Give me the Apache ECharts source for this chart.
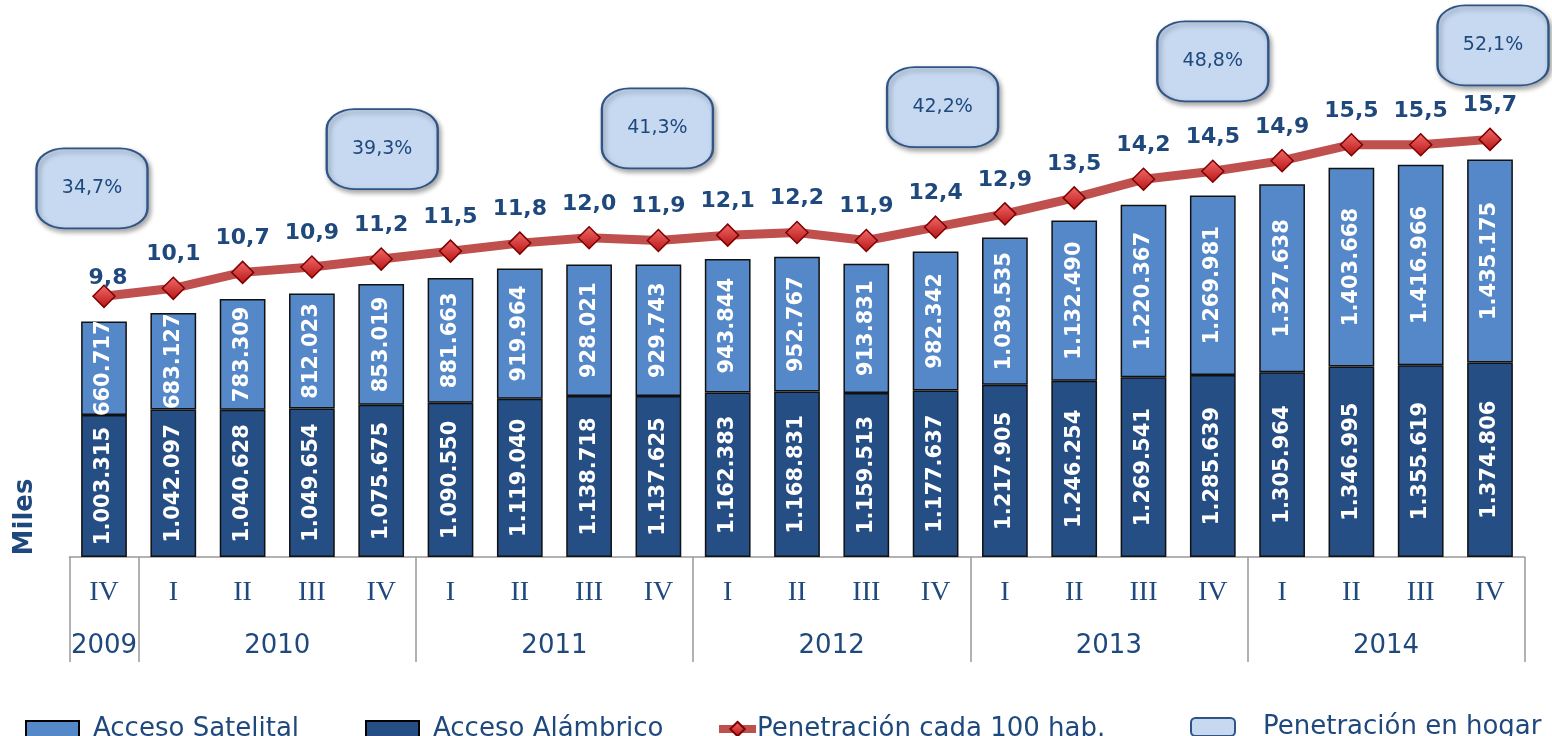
<!DOCTYPE html>
<html>
<head>
<meta charset="utf-8">
<script src="https://cdn.jsdelivr.net/npm/echarts@6/dist/echarts.min.js"></script>
<style>
  html, body { margin: 0; padding: 0; background: #fff; }
  #chart { width: 1552px; height: 736px; }
</style>
</head>
<body>
<div id="chart"></div>
<script>
// datos por trimestre (IV 2009 .. IV 2014)
var quarters = ['IV', 'I', 'II', 'III', 'IV', 'I', 'II', 'III', 'IV', 'I', 'II', 'III', 'IV',
    'I', 'II', 'III', 'IV', 'I', 'II', 'III', 'IV']
var years = ['2009', '2010', '2011', '2012', '2013', '2014']
var quartersPerYear = [1, 4, 4, 4, 4, 4]

var alambrico = [1003315, 1042097, 1040628, 1049654, 1075675, 1090550, 1119040, 1138718, 1137625,
    1162383, 1168831, 1159513, 1177637, 1217905, 1246254, 1269541, 1285639, 1305964, 1346995,
    1355619, 1374806]
var satelital = [660717, 683127, 783309, 812023, 853019, 881663, 919964, 928021, 929743,
    943844, 952767, 913831, 982342, 1039535, 1132490, 1220367, 1269981, 1327638, 1403668,
    1416966, 1435175]
var penetracion = [9.8, 10.1, 10.7, 10.9, 11.2, 11.5, 11.8, 12.0, 11.9, 12.1, 12.2, 11.9, 12.4,
    12.9, 13.5, 14.2, 14.5, 14.9, 15.5, 15.5, 15.7]

// penetracion en hogar (solo algunos trimestres)
var hogarIndex = [0, 4, 8, 12, 16, 20]
var hogar = [34.7, 39.3, 41.3, 42.2, 48.8, 52.1]

var azul = '#1F497D'

function miles(n) {
    return String(n).replace(/\B(?=(\d{3})+(?!\d))/g, '.')
}
function coma(v) {
    return v.toFixed(1).replace('.', ',')
}

// eje de años: medio trimestre por paso, etiquetas al centro de cada año
var yearAxisData = []
var yearTicks = {}
var yearLabels = {}
var pos = 0
yearTicks[0] = true
for (var y = 0; y < years.length; y++) {
    yearLabels[pos + quartersPerYear[y]] = years[y]
    pos += quartersPerYear[y] * 2
    yearTicks[pos] = true
}
for (var h = 0; h <= pos; h++) {
    yearAxisData.push(yearLabels[h] || '')
}

// desplazamiento de los recuadros respecto a la linea
var boxOffset = [[-12, -108], [1, -110], [-1, -112], [7, -120], [0, -110], [3, -94]]
var hogarData = hogarIndex.map(function (idx, i) {
    return {
        value: [idx, penetracion[idx], hogar[i]],
        symbolOffset: boxOffset[i]
    }
})

var lineData = penetracion.map(function (v, i) {
    if (i === 0) {
        return { value: v, label: { offset: [4, 16] } }
    }
    return v
})

var legendText = { color: azul, fontSize: 26 }

var chart = echarts.init(document.getElementById('chart'))
chart.setOption({
    animation: false,
    textStyle: { fontFamily: 'DejaVu Sans' },
    grid: {
        left: 69.35,
        right: 27.35,
        top: 25,
        bottom: 179
    },
    legend: [
        {
            data: [{ name: 'Acceso Satelital', icon: 'rect' }],
            left: 25,
            top: 716,
            padding: 0,
            itemWidth: 53,
            itemHeight: 16,
            itemStyle: { borderColor: '#000', borderWidth: 2 },
            textStyle: Object.assign({ padding: [0, 0, 0, 9] }, legendText)
        },
        {
            data: [{ name: 'Acceso Alámbrico', icon: 'rect' }],
            left: 365,
            top: 716,
            padding: 0,
            itemWidth: 53,
            itemHeight: 16,
            itemStyle: { borderColor: '#000', borderWidth: 2 },
            textStyle: Object.assign({ padding: [0, 0, 0, 9] }, legendText)
        },
        {
            data: ['Penetración cada 100 hab.'],
            left: 715,
            top: 716,
            padding: 0,
            itemWidth: 37,
            itemHeight: 18,
            lineStyle: { color: '#C0504D', width: 8 },
            textStyle: Object.assign({ padding: [0, 0, 0, -4] }, legendText)
        },
        {
            data: ['Penetración en hogar'],
            left: 1190,
            top: 714,
            padding: 0,
            itemWidth: 44,
            itemHeight: 18,
            itemStyle: { opacity: 1 },
            textStyle: Object.assign({ padding: [0, 0, 0, 23] }, legendText)
        }
    ],
    xAxis: [
        {
            type: 'category',
            data: quarters,
            position: 'bottom',
            axisLine: { lineStyle: { color: '#999', width: 1.5 } },
            axisTick: { show: false },
            axisLabel: {
                color: azul,
                fontFamily: 'Liberation Serif',
                fontSize: 28,
                margin: 22
            }
        },
        {
            type: 'category',
            data: yearAxisData,
            position: 'bottom',
            boundaryGap: false,
            axisLine: { show: false },
            axisTick: {
                show: true,
                length: 105,
                interval: function (idx) { return !!yearTicks[idx] },
                lineStyle: { color: '#999', width: 1.5 }
            },
            axisLabel: {
                color: azul,
                fontSize: 26,
                margin: 76,
                interval: function (idx) { return !!yearLabels[idx] }
            }
        }
    ],
    yAxis: [
        { type: 'value', min: 0, max: 3760000, show: false },
        { type: 'value', min: 0, max: 20, show: false }
    ],
    graphic: [
        {
            type: 'text',
            x: 25,
            y: 517,
            rotation: Math.PI / 2,
            style: {
                text: 'Miles',
                fill: azul,
                font: 'bold 26px "DejaVu Sans"',
                align: 'center',
                verticalAlign: 'middle'
            }
        }
    ],
    series: [
        {
            name: 'Acceso Alámbrico',
            type: 'bar',
            stack: 'total',
            barWidth: '66%',
            data: alambrico,
            itemStyle: { color: '#254E85', borderColor: '#111', borderWidth: 1.5 },
            label: {
                show: true,
                position: 'inside',
                rotate: 90,
                color: '#fff',
                fontWeight: 'bold',
                fontSize: 21,
                formatter: function (p) { return miles(p.value) }
            }
        },
        {
            name: 'Acceso Satelital',
            type: 'bar',
            stack: 'total',
            barWidth: '66%',
            data: satelital,
            itemStyle: { color: '#5588C8', borderColor: '#111', borderWidth: 1.5 },
            label: {
                show: true,
                position: 'inside',
                rotate: 90,
                color: '#fff',
                fontWeight: 'bold',
                fontSize: 21,
                formatter: function (p) { return miles(p.value) }
            }
        },
        {
            name: 'Penetración cada 100 hab.',
            type: 'line',
            yAxisIndex: 1,
            data: lineData,
            symbol: 'diamond',
            symbolSize: 22,
            lineStyle: { color: '#C0504D', width: 9 },
            itemStyle: {
                color: new echarts.graphic.LinearGradient(0, 0, 0, 1, [
                    { offset: 0, color: '#F26B6B' },
                    { offset: 1, color: '#B81414' }
                ]),
                borderColor: '#7F0000',
                borderWidth: 1.5
            },
            label: {
                show: true,
                position: 'top',
                distance: 11,
                color: azul,
                fontWeight: 'bold',
                fontSize: 22,
                formatter: function (p) { return coma(p.value) }
            },
            z: 5
        },
        {
            name: 'Penetración en hogar',
            type: 'scatter',
            yAxisIndex: 1,
            data: hogarData,
            symbol: 'roundRect',
            symbolSize: [111, 80],
            itemStyle: {
                color: '#C6D9F1',
                opacity: 1,
                borderColor: '#2F5485',
                borderWidth: 2,
                shadowColor: 'rgba(0,0,0,0.35)',
                shadowBlur: 5,
                shadowOffsetX: 2,
                shadowOffsetY: 3
            },
            label: {
                show: true,
                position: 'inside',
                color: azul,
                fontSize: 19,
                formatter: function (p) { return coma(p.value[2]) + '%' }
            },
            z: 6
        }
    ]
})
</script>
</body>
</html>
